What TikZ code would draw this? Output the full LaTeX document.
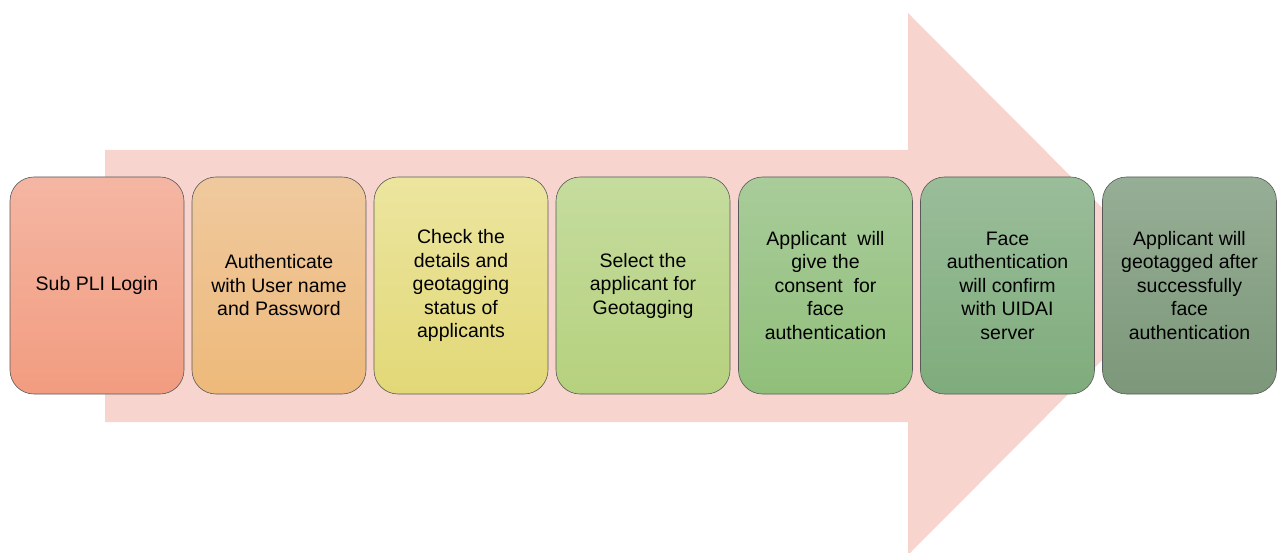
\documentclass[tikz,border=0pt]{standalone}
\usepackage{fontspec}
\setmainfont{Liberation Sans}
\begin{document}
\begin{tikzpicture}[x=1pt,y=-1pt,
  stepbox/.style={draw=black!65, line width=0.6pt, rounded corners=24pt,
    minimum width=174pt, minimum height=217pt, align=center,
    font=\fontsize{19.5}{23.5}\selectfont, shading=axis, shading angle=0, inner sep=0pt}]
\definecolor{arrowfill}{HTML}{F7D5CE}
\definecolor{aT}{HTML}{F4B6A3}\definecolor{aB}{HTML}{F29C80}
\definecolor{bT}{HTML}{EFC99E}\definecolor{bB}{HTML}{EEB97A}
\definecolor{cT}{HTML}{ECE59F}\definecolor{cB}{HTML}{E2D877}
\definecolor{dT}{HTML}{C5DC9E}\definecolor{dB}{HTML}{B6D17E}
\definecolor{eT}{HTML}{A9CC9A}\definecolor{eB}{HTML}{90BF7A}
\definecolor{fT}{HTML}{9ABD9A}\definecolor{fB}{HTML}{7FAC7C}
\definecolor{gT}{HTML}{96AE95}\definecolor{gB}{HTML}{7C977A}
\useasboundingbox (0,0) rectangle (1277,553);
\begin{scope}
\clip (0,0) rectangle (1277,553);
\fill[arrowfill] (105,150) -- (908,150) -- (908,13) -- (1178,284) -- (908,555) -- (908,422) -- (105,422) -- cycle;
\end{scope}
\node[stepbox, top color=aT, bottom color=aB] (s1) at (97,285.5) {Sub PLI Login};
\node[stepbox, top color=bT, bottom color=bB] (s2) at (279,285.5) {Authenticate\\with User name\\and Password};
\node[stepbox, top color=cT, bottom color=cB] (s3) at (461,285.5) {Check the\\details and\\geotagging\\status of\\applicants};
\node[stepbox, top color=dT, bottom color=dB] (s4) at (643,285.5) {Select the\\applicant for\\Geotagging};
\node[stepbox, top color=eT, bottom color=eB] (s5) at (825.5,285.5) {Applicant~ will\\give the\\consent~ for\\face\\authentication};
\node[stepbox, top color=fT, bottom color=fB] (s6) at (1007.5,285.5) {Face\\authentication\\will confirm\\with UIDAI\\server};
\node[stepbox, top color=gT, bottom color=gB] (s7) at (1189.5,285.5) {Applicant will\\geotagged after\\successfully\\face\\authentication};
\end{tikzpicture}
\end{document}
